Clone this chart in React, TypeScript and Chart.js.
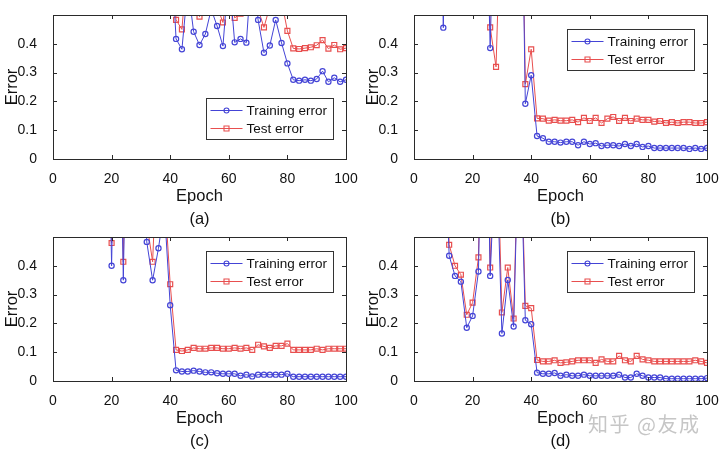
import React, { useEffect, useRef } from 'react';
import { Chart, registerables } from 'chart.js';

Chart.register(...registerables);

const EPOCHS = [2, 4, 6, 8, 10, 12, 14, 16, 18, 20, 22, 24, 26, 28, 30, 32, 34, 36, 38, 40,
  42, 44, 46, 48, 50, 52, 54, 56, 58, 60, 62, 64, 66, 68, 70, 72, 74, 76, 78, 80,
  82, 84, 86, 88, 90, 92, 94, 96, 98, 100];
const X_TICKS = [0, 20, 40, 60, 80, 100];
const Y_TICKS = [0, 0.1, 0.2, 0.3, 0.4];
const SERIES_NAMES = ['Training error', 'Test error'];
const PANEL_TAGS = ['(a)', '(b)', '(c)', '(d)'];

// Values above 0.5 fall outside the visible axis window (clipped as in the original)
const A_TRAIN = [0.85, 0.8, 0.78, 0.82, 0.75, 0.8, 0.72, 0.7, 0.74, 0.68, 0.7, 0.66, 0.69, 0.64, 0.67, 0.62, 0.65, 0.63, 0.6, 0.8,
  0.417, 0.381, 0.6, 0.442, 0.396, 0.434, 0.52, 0.462, 0.392, 0.65,
  0.405, 0.417, 0.404, 0.7, 0.483, 0.369, 0.394, 0.483, 0.403, 0.332,
  0.275, 0.272, 0.275, 0.272, 0.278, 0.305, 0.268, 0.282, 0.268, 0.275];
const A_TEST = [0.9, 0.85, 0.88, 0.8, 0.82, 0.9, 0.78, 0.8, 0.85, 0.75, 0.78, 0.72, 0.8, 0.7, 0.76, 0.72, 0.7, 0.75, 0.72, 0.9,
  0.483, 0.45, 0.7, 0.55, 0.494, 0.56, 0.6, 0.53, 0.474, 0.62,
  0.49, 0.505, 0.58, 0.72, 0.52, 0.457, 0.53, 0.51, 0.55, 0.445,
  0.384, 0.382, 0.385, 0.388, 0.395, 0.413, 0.383, 0.396, 0.381, 0.385];

const B_TRAIN = [0.8, 0.85, 0.75, 1.5, 0.456, 1.5, 0.8, 0.85, 0.78, 0.82, 0.75, 1.2, 0.385, 1.2, 0.75, 0.8, 0.72, 1.5, 0.192, 0.291,
  0.08, 0.072, 0.06, 0.06, 0.057, 0.06, 0.06, 0.048, 0.06, 0.052,
  0.055, 0.045, 0.048, 0.048, 0.045, 0.052, 0.045, 0.052, 0.042, 0.045,
  0.038, 0.038, 0.038, 0.038, 0.038, 0.038, 0.035, 0.038, 0.035, 0.038];
const B_TEST = [0.9, 0.95, 0.85, 0.9, 0.8, 0.85, 0.9, 0.8, 0.85, 0.75, 0.8, 1.5, 0.457, 0.32, 1.0, 0.9, 0.85, 1.5, 0.26, 0.381,
  0.141, 0.14, 0.133, 0.136, 0.133, 0.133, 0.136, 0.128, 0.143, 0.132,
  0.143, 0.125, 0.14, 0.146, 0.132, 0.143, 0.132, 0.14, 0.136, 0.136,
  0.13, 0.132, 0.125, 0.128, 0.125, 0.128, 0.128, 0.125, 0.125, 0.128];

const C_TRAIN = [0.9, 0.85, 0.9, 0.8, 0.85, 0.9, 0.8, 0.85, 1.5, 0.4, 1.5, 0.35, 1.5, 0.9, 1.0, 0.483, 0.35, 0.461, 0.6, 0.263,
  0.037, 0.033, 0.033, 0.036, 0.033, 0.03, 0.03, 0.027, 0.025, 0.025,
  0.025, 0.018, 0.022, 0.016, 0.022, 0.022, 0.022, 0.022, 0.022, 0.025,
  0.015, 0.015, 0.015, 0.015, 0.015, 0.015, 0.015, 0.015, 0.015, 0.015];
const C_TEST = [0.9, 0.95, 0.85, 0.9, 0.85, 0.9, 0.95, 0.85, 1.5, 0.479, 1.5, 0.414, 1.5, 0.9, 1.0, 0.55, 0.414, 0.9, 0.66, 0.336,
  0.108, 0.104, 0.108, 0.115, 0.112, 0.112, 0.115, 0.115, 0.112, 0.112,
  0.115, 0.112, 0.115, 0.108, 0.126, 0.12, 0.115, 0.122, 0.122, 0.13,
  0.108, 0.108, 0.108, 0.108, 0.112, 0.108, 0.112, 0.112, 0.112, 0.112];

const D_TRAIN = [0.9, 0.85, 0.9, 0.8, 1.0, 0.435, 0.365, 0.345, 0.185, 0.226, 0.38, 1.5, 0.365, 0.85, 0.165, 0.351, 0.189, 0.95, 0.211, 0.197,
  0.029, 0.025, 0.025, 0.028, 0.018, 0.022, 0.018, 0.018, 0.022, 0.018,
  0.018, 0.018, 0.018, 0.018, 0.022, 0.012, 0.012, 0.025, 0.018, 0.012,
  0.012, 0.012, 0.008, 0.008, 0.008, 0.008, 0.008, 0.008, 0.008, 0.01];
const D_TEST = [0.95, 0.9, 0.85, 0.9, 1.2, 0.473, 0.4, 0.369, 0.23, 0.272, 0.429, 1.5, 0.394, 1.0, 0.238, 0.394, 0.217, 1.0, 0.261, 0.253,
  0.073, 0.068, 0.068, 0.072, 0.063, 0.065, 0.068, 0.072, 0.072, 0.072,
  0.063, 0.075, 0.068, 0.068, 0.087, 0.072, 0.068, 0.087, 0.075, 0.072,
  0.068, 0.068, 0.068, 0.068, 0.068, 0.068, 0.068, 0.072, 0.068, 0.063];

const BLUE = '#4444d6';
const RED = '#e84f4f';
const INK = '#111111';
const FAMILY = '"Liberation Sans", Arial, Helvetica, sans-serif';

const framePlugin = {
  id: 'frame',
  afterDraw(chart: any, _args: any, opts: any) {
    const { ctx, chartArea: a, scales } = chart;
    ctx.save();
    // axes box
    ctx.strokeStyle = '#2a2a2a';
    ctx.lineWidth = 1;
    ctx.strokeRect(Math.round(a.left) + 0.5, Math.round(a.top) + 0.5, Math.round(a.right - a.left), Math.round(a.bottom - a.top));
    // inner tick marks on all four sides
    const tl = 4;
    ctx.beginPath();
    X_TICKS.forEach((v) => {
      const px = Math.round(scales.x.getPixelForValue(v)) + 0.5;
      ctx.moveTo(px, a.bottom); ctx.lineTo(px, a.bottom - tl);
      ctx.moveTo(px, a.top); ctx.lineTo(px, a.top + tl);
    });
    Y_TICKS.forEach((v) => {
      const py = Math.round(scales.y.getPixelForValue(v)) + 0.5;
      ctx.moveTo(a.left, py); ctx.lineTo(a.left + tl, py);
      ctx.moveTo(a.right, py); ctx.lineTo(a.right - tl, py);
    });
    ctx.stroke();

    // legend
    const bw = 127, bh = 41;
    const bx = Math.round(a.right - 13 - bw) + 0.5;
    const by = opts.legendPos === 'br' ? Math.round(a.bottom - 20 - bh) + 0.5 : Math.round(a.top + 14) + 0.5;
    ctx.fillStyle = '#ffffff';
    ctx.fillRect(bx, by, bw, bh);
    ctx.strokeStyle = '#333333';
    ctx.strokeRect(bx, by, bw, bh);
    chart.data.datasets.forEach((ds: any, i: number) => {
      const yy = by + 12 + i * 18;
      ctx.strokeStyle = ds.borderColor;
      ctx.lineWidth = 1;
      ctx.beginPath();
      ctx.moveTo(bx + 4, yy); ctx.lineTo(bx + 36, yy);
      ctx.stroke();
      ctx.lineWidth = 1.1;
      ctx.beginPath();
      if (ds.pointStyle === 'rect') {
        ctx.rect(bx + 20 - 2.5, yy - 2.5, 5, 5);
      } else {
        ctx.arc(bx + 20, yy, 2.5, 0, Math.PI * 2);
      }
      ctx.stroke();
      ctx.fillStyle = INK;
      ctx.font = `13.5px ${FAMILY}`;
      ctx.textBaseline = 'middle';
      ctx.textAlign = 'left';
      ctx.fillText(ds.label, bx + 40, yy + 0.5);
    });

    // panel tag
    ctx.fillStyle = INK;
    ctx.font = `16.5px ${FAMILY}`;
    ctx.textAlign = 'center';
    ctx.textBaseline = 'middle';
    ctx.fillText(opts.tag, (a.left + a.right) / 2, 219);
    ctx.restore();
  },
};

type PanelProps = {
  train: number[];
  test: number[];
  tag: string;
  legendPos: string;
  left: number;
  top: number;
  width: number;
};

function Panel({ train, test, tag, legendPos, left, top, width }: PanelProps) {
  const ref = useRef<HTMLCanvasElement>(null);
  useEffect(() => {
    const chart = new Chart(ref.current as HTMLCanvasElement, {
      type: 'line',
      data: {
        datasets: [
          {
            label: SERIES_NAMES[0],
            data: EPOCHS.map((x, i) => ({ x, y: train[i] })),
            borderColor: BLUE,
            borderWidth: 1,
            pointStyle: 'circle',
            pointRadius: 2.6,
            pointBorderWidth: 1.2,
            pointBorderColor: BLUE,
            pointBackgroundColor: 'rgba(255,255,255,0)',
            tension: 0,
            clip: 0,
          } as any,
          {
            label: SERIES_NAMES[1],
            data: EPOCHS.map((x, i) => ({ x, y: test[i] })),
            borderColor: RED,
            borderWidth: 1,
            pointStyle: 'rect',
            pointRadius: 3.5,
            pointBorderWidth: 1.2,
            pointBorderColor: RED,
            pointBackgroundColor: 'rgba(255,255,255,0)',
            tension: 0,
            clip: 0,
          } as any,
        ],
      },
      options: {
        responsive: false,
        animation: false,
        layout: { padding: { left: 0, top: 15, right: width - 346, bottom: 0 } },
        plugins: {
          legend: { display: false },
          tooltip: { enabled: false },
          frame: { tag, legendPos },
        } as any,
        scales: {
          x: {
            type: 'linear',
            min: 0,
            max: 100,
            afterBuildTicks: (s: any) => { s.ticks = X_TICKS.map((v) => ({ value: v })); },
            grid: { display: false },
            border: { display: false },
            ticks: { padding: 4, color: INK, font: { size: 14, family: FAMILY }, maxRotation: 0, autoSkip: false, callback: (v: any) => String(v) },
            title: { display: true, text: 'Epoch', color: INK, font: { size: 16.5, family: FAMILY }, padding: { top: 0, bottom: 21 } },
            afterFit: (s: any) => { s.height = 68; s.paddingLeft = 0; s.paddingRight = 0; },
          },
          y: {
            type: 'linear',
            min: 0,
            max: 0.5,
            afterBuildTicks: (s: any) => { s.ticks = Y_TICKS.map((v) => ({ value: v })); },
            grid: { display: false },
            border: { display: false },
            ticks: { padding: 8, color: INK, font: { size: 14, family: FAMILY }, autoSkip: false, callback: (v: any) => String(v) },
            title: { display: true, text: 'Error', color: INK, font: { size: 16.5, family: FAMILY }, padding: { top: 3, bottom: 0 } },
            afterFit: (s: any) => { s.width = 53; s.paddingTop = 0; s.paddingBottom = 0; },
          },
        },
      } as any,
      plugins: [framePlugin],
    });
    return () => chart.destroy();
  }, []);
  return (
    <canvas
      ref={ref}
      width={width}
      height={227}
      style={{ position: 'absolute', left, top, width, height: 227 }}
    />
  );
}

export default function App() {
  useEffect(() => {
    document.body.style.margin = '0';
  }, []);
  return (
    <div style={{ position: 'relative', width: 720, height: 454, overflow: 'hidden', background: '#ffffff' }}>
      <Panel train={A_TRAIN} test={A_TEST} tag={PANEL_TAGS[0]} legendPos="br" left={0} top={0} width={360} />
      <Panel train={B_TRAIN} test={B_TEST} tag={PANEL_TAGS[1]} legendPos="tr" left={361} top={0} width={359} />
      <Panel train={C_TRAIN} test={C_TEST} tag={PANEL_TAGS[2]} legendPos="tr" left={0} top={222} width={360} />
      <Panel train={D_TRAIN} test={D_TEST} tag={PANEL_TAGS[3]} legendPos="tr" left={361} top={222} width={359} />
      <div
        style={{
          position: 'absolute', left: 588, top: 410, fontSize: 20, lineHeight: '28px',
          fontFamily: '"Noto Sans CJK SC", sans-serif', color: '#c6c6c6', letterSpacing: 1.5, whiteSpace: 'nowrap',
        }}
      >
        知乎 @友成
      </div>
    </div>
  );
}
